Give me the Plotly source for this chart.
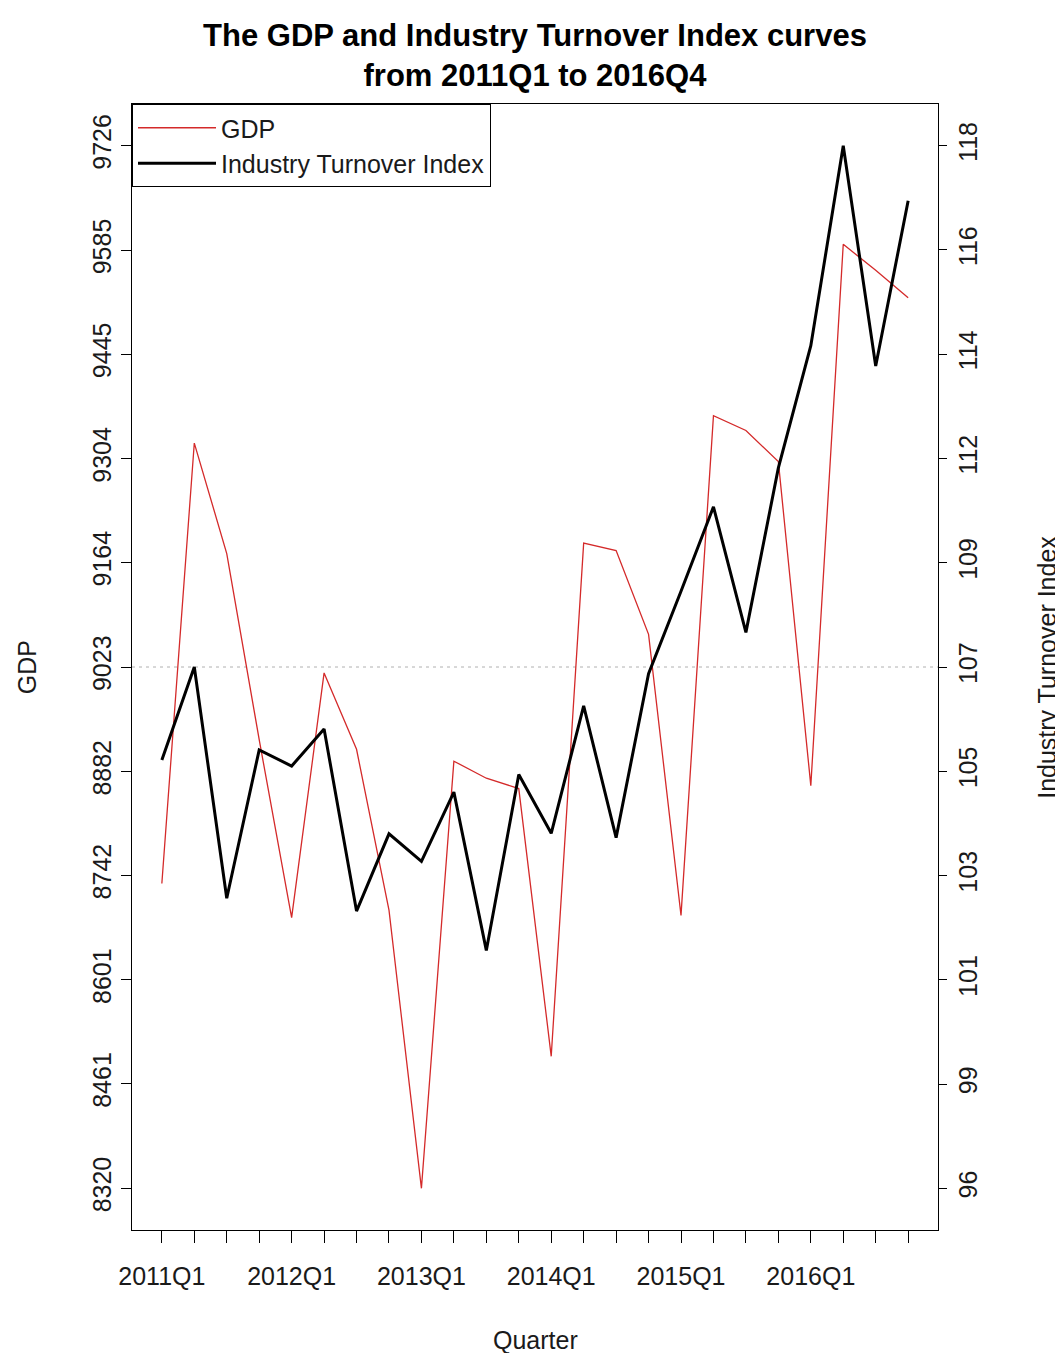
import numpy as np
import plotly.graph_objects as go

quarters = [f"{y}Q{q}" for y in range(2011, 2017) for q in range(1, 5)]
gdp = [8731, 9325, 9176, 8925, 8685, 9015, 8912, 8695, 8320, 8896, 8873, 8859,
       8498, 9190, 9180, 9067, 8688, 9362, 9342, 9300, 8863, 9593, 9558, 9521]
turnover = [105.04, 107.0, 102.12, 105.25, 104.91, 105.69, 101.85, 103.48, 102.9, 104.36, 101.02, 104.73,
            103.49, 106.18, 103.4, 106.86, 108.6, 110.38, 107.73, 111.2, 113.78, 118.0, 113.35, 116.84]
gdp_ticks = [8320, 8461, 8601, 8742, 8882, 9023, 9164, 9304, 9445, 9585, 9726]
turnover_tick_labels = ["96", "99", "101", "103", "105", "107", "109", "112", "114", "116", "118"]
turnover_lim = [96, 118]
ref_gdp = 9023

FONT = "Liberation Sans, Arial, sans-serif"
TXT = "#1a1a1a"
FS = 25

x = list(range(len(quarters)))
x_labels = [q if q.endswith("Q1") else "" for q in quarters]

def ext(lo, hi, f=0.04):
    d = (hi - lo) * f
    return [lo - d, hi + d]

fig = go.Figure()
fig.add_trace(go.Scatter(x=x, y=gdp, mode="lines", name="GDP",
                         line=dict(color="#d42a2a", width=1.3), yaxis="y"))
fig.add_trace(go.Scatter(x=x, y=turnover, mode="lines", name="Industry Turnover Index",
                         line=dict(color="black", width=3), yaxis="y2"))

fig.add_hline(y=ref_gdp, line=dict(color="#b0b0b0", width=1, dash="3px,4px"), layer="below")

tick_font = dict(family=FONT, size=FS, color=TXT)

fig.update_layout(
    width=1055, height=1345,
    margin=dict(l=124, r=125, t=96, b=123),
    paper_bgcolor="white", plot_bgcolor="white",
    font=dict(family=FONT, size=FS, color=TXT),
    title=dict(text="<b>The GDP and Industry Turnover Index curves<br>from 2011Q1 to 2016Q4</b>",
               x=0.5, xref="paper", xanchor="center", y=0.9717, yref="container", yanchor="middle",
               font=dict(family=FONT, size=31, color="black")),
    showlegend=True,
    legend=dict(x=0, y=1, xanchor="left", yanchor="top", bordercolor="black", borderwidth=1,
                bgcolor="white", font=dict(family=FONT, size=FS, color=TXT),
                tracegroupgap=0, itemwidth=78),
    xaxis=dict(range=ext(0, len(quarters) - 1), tickvals=x, ticktext=x_labels,
               showgrid=False, zeroline=False, showline=True, mirror=True, linecolor="black", linewidth=1,
               ticks="outside", ticklen=12, tickcolor="black", tickfont=tick_font, tickangle=0,
               ticklabelstandoff=12),
    yaxis=dict(range=ext(min(gdp_ticks), max(gdp_ticks)), tickvals=gdp_ticks,
               ticktext=[str(v) for v in gdp_ticks],
               showgrid=False, zeroline=False, showline=True, mirror=True, linecolor="black", linewidth=1,
               ticks="outside", ticklen=10, tickcolor="black", tickfont=tick_font, tickangle=-90),
    yaxis2=dict(range=ext(*turnover_lim), overlaying="y", side="right",
                tickvals=list(np.linspace(turnover_lim[0], turnover_lim[1], len(turnover_tick_labels))),
                ticktext=turnover_tick_labels,
                showgrid=False, zeroline=False, showline=False,
                ticks="outside", ticklen=8, tickcolor="black", tickfont=tick_font, tickangle=-90),
)

fig.add_annotation(text="GDP", xref="paper", yref="paper", x=-0.13, y=0.5, textangle=-90,
                   showarrow=False, xanchor="center", yanchor="middle", font=dict(family=FONT, size=FS, color=TXT))
fig.add_annotation(text="Industry Turnover Index", xref="paper", yref="paper", x=1.135, y=0.5, textangle=-90,
                   showarrow=False, xanchor="center", yanchor="middle", font=dict(family=FONT, size=FS, color=TXT))
fig.add_annotation(text="Quarter", xref="paper", yref="paper", x=0.5, y=-0.0977,
                   showarrow=False, xanchor="center", yanchor="middle", font=dict(family=FONT, size=FS, color=TXT))

fig.write_html("out.html")
